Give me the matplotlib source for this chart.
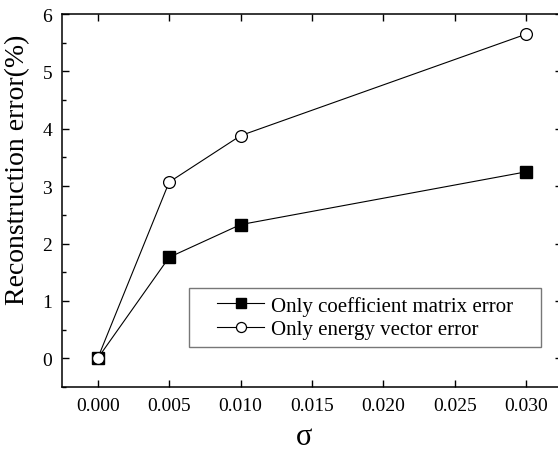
import numpy as np
import matplotlib
matplotlib.use('Agg')
import matplotlib.pyplot as plt
from matplotlib.patches import Rectangle
from matplotlib.ticker import MultipleLocator

# Data
sigma = [0.000, 0.005, 0.010, 0.030]
coef_err = [0.0, 1.76, 2.33, 3.25]
energy_err = [0.0, 3.07, 3.88, 5.65]
labels = ['Only coefficient matrix error', 'Only energy vector error']

plt.rcParams['font.family'] = ['Liberation Serif', 'DejaVu Serif']

fig = plt.figure(figsize=(5.58, 4.52), dpi=100)
# axes extends slightly past the right edge, as in the reference
ax = fig.add_axes([62 / 558, 64 / 452, 500 / 558, 373 / 452])

ax.plot(sigma, coef_err, color='black', linewidth=0.8, marker='s',
        markersize=8, markerfacecolor='black', markeredgecolor='black',
        label=labels[0], zorder=3)
ax.plot(sigma, energy_err, color='black', linewidth=0.8, marker='o',
        markersize=8.5, markerfacecolor='white', markeredgecolor='black',
        markeredgewidth=0.9, label=labels[1], zorder=3)

ax.set_xlim(-0.0025, 0.0325)
ax.set_ylim(-0.5, 6)
ax.set_xticks(np.arange(0, 0.031, 0.005))
ax.set_xticklabels(['%.3f' % v for v in np.arange(0, 0.031, 0.005)])
ax.yaxis.set_major_locator(MultipleLocator(1))
ax.yaxis.set_minor_locator(MultipleLocator(0.5))

ax.tick_params(which='both', direction='in', top=True, right=True,
               labelsize=14, width=1)
ax.tick_params(which='major', length=5, pad=7)
ax.tick_params(which='minor', length=3)
for s in ax.spines.values():
    s.set_linewidth(1.1)

ax.set_ylabel('Reconstruction error(%)', fontsize=20)
ax.yaxis.set_label_coords(-0.063, 0.584)
ax.set_xlabel('σ', fontsize=22)
ax.xaxis.set_label_coords(0.484, -0.094)

# legend frame drawn separately so the entries sit centred in the box
frame = Rectangle((0.254, 0.107), 0.704, 0.158, transform=ax.transAxes,
                  facecolor='white', edgecolor='#777777', linewidth=1.0,
                  zorder=4)
ax.add_patch(frame)
leg = ax.legend(loc='center', bbox_to_anchor=(0.606, 0.186), frameon=False,
                fontsize=15, handlelength=2.26, handletextpad=0.3,
                labelspacing=0.2, borderpad=0, borderaxespad=0,
                markerscale=0.85)
leg.set_zorder(5)

fig.savefig('out.png', dpi=100)
